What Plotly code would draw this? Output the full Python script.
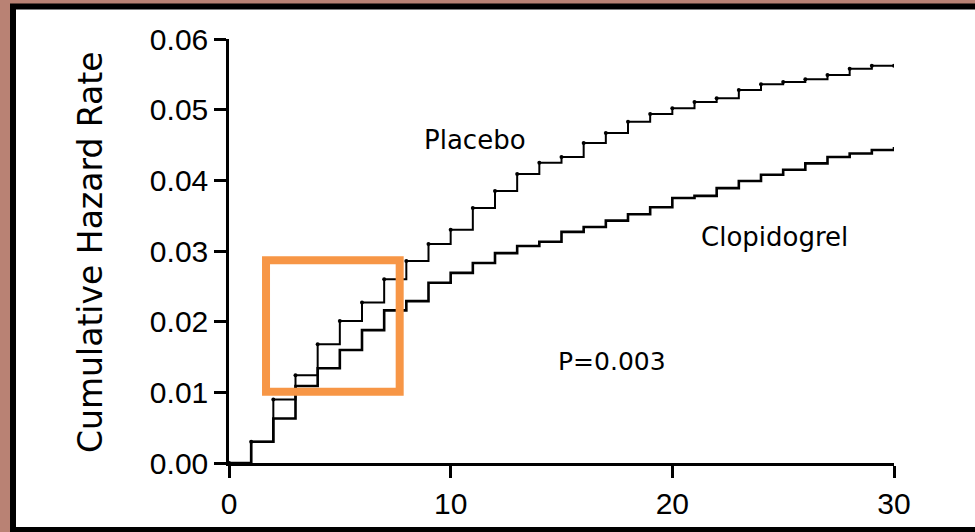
import plotly.graph_objects as go

months = list(range(0, 31))
placebo = [0.0, 0.0030, 0.0090, 0.0124, 0.0168, 0.0201, 0.0227, 0.0260, 0.0286, 0.0310,
           0.0330, 0.0361, 0.0385, 0.0409, 0.0425, 0.0433, 0.0453, 0.0467, 0.0483, 0.0494,
           0.0502, 0.0511, 0.0516, 0.0528, 0.0536, 0.0539, 0.0543, 0.0549, 0.0558, 0.0562, 0.0562]
clopidogrel = [0.0, 0.0030, 0.0063, 0.0109, 0.0134, 0.0160, 0.0188, 0.0216, 0.0229, 0.0255,
               0.0269, 0.0283, 0.0297, 0.0307, 0.0313, 0.0327, 0.0334, 0.0343, 0.0352, 0.0362,
               0.0375, 0.0378, 0.0389, 0.0399, 0.0408, 0.0415, 0.0424, 0.0433, 0.0438, 0.0443, 0.0447]
x_ticks = [0, 10, 20, 30]
y_ticks = [0.00, 0.01, 0.02, 0.03, 0.04, 0.05, 0.06]
highlight_box = dict(x0=1.67, x1=7.70, y0=0.0101, y1=0.0287)

W, H = 975, 532
ML, MR, MT, MB = 229, 81, 39, 69
pw, ph = W - ML - MR, H - MT - MB


def px(xp):
    return (xp - ML) / pw


def py(yp):
    return (H - MB - yp) / ph


fig = go.Figure()
fig.add_trace(go.Scatter(x=months, y=clopidogrel, mode="lines", line=dict(shape="hv", color="black", width=2.6),
                         name="Clopidogrel", showlegend=False, hoverinfo="skip"))
fig.add_trace(go.Scatter(x=months, y=placebo, mode="lines+markers", line=dict(shape="hv", color="black", width=2),
                         marker=dict(size=4, color="black"), name="Placebo", showlegend=False, hoverinfo="skip"))

fig.add_shape(type="rect", xref="paper", yref="paper", x0=px(13), x1=px(995), y0=py(6.5), y1=py(530),
              line=dict(color="black", width=6), fillcolor="white", layer="below")
fig.add_shape(type="rect", xref="x", yref="y", line=dict(color="#F79646", width=8), fillcolor="rgba(0,0,0,0)",
              layer="above", **highlight_box)

fig.add_annotation(x=11.1, y=0.0457, text="Placebo", showarrow=False,
                   font=dict(family="DejaVu Sans", size=26, color="black"))
fig.add_annotation(x=24.6, y=0.0320, text="Clopidogrel", showarrow=False,
                   font=dict(family="DejaVu Sans", size=26, color="black"))
fig.add_annotation(x=17.3, y=0.0143, text="P=0.003", showarrow=False,
                   font=dict(family="DejaVu Sans", size=25, color="black"))
fig.add_annotation(xref="paper", yref="paper", x=px(90), y=py(252), text="Cumulative Hazard Rate",
                   textangle=-90, showarrow=False, xanchor="center", yanchor="middle",
                   font=dict(family="DejaVu Sans", size=33, color="black"))

axis_common = dict(showline=True, linecolor="black", linewidth=2.5, ticks="outside", ticklen=12,
                   tickwidth=2.5, tickcolor="black", showgrid=False, zeroline=False,
                   tickfont=dict(family="Liberation Sans", size=30, color="black"))
fig.update_xaxes(range=[0, 30], tickvals=x_ticks, ticktext=[str(v) for v in x_ticks], **axis_common)
fig.update_yaxes(range=[0, 0.06], tickvals=y_ticks, ticktext=[f"{v:.2f}" for v in y_ticks], **axis_common)

fig.update_layout(width=W, height=H, margin=dict(l=ML, r=MR, t=MT, b=MB, autoexpand=False),
                  paper_bgcolor="#b98274", plot_bgcolor="rgba(0,0,0,0)")
fig.write_html("out.html", config={"displayModeBar": False},
               post_script="document.body.style.margin='0';document.body.style.background='#b98274';")
